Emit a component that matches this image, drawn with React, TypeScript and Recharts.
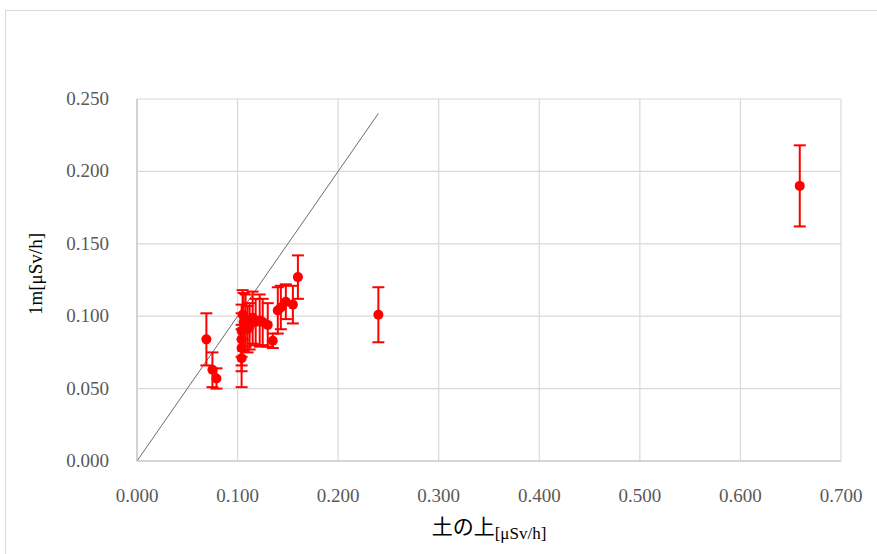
import React from 'react';
import {
  ScatterChart,
  Scatter,
  XAxis,
  YAxis,
  CartesianGrid,
  ErrorBar,
  ReferenceLine,
} from 'recharts';

/* ------------------------- data ----------------------------------------- */
// 土の上 (x) vs 1m (y), µSv/h, with y error
const soilValues = [
  0.069, 0.075, 0.079, 0.104, 0.104, 0.104, 0.104, 0.105, 0.106, 0.108,
  0.110, 0.112, 0.115, 0.118, 0.122, 0.125, 0.130, 0.135, 0.140, 0.143,
  0.148, 0.155, 0.160, 0.240, 0.659,
];
const oneMeterValues = [
  0.084, 0.063, 0.057, 0.071, 0.078, 0.084, 0.090, 0.101, 0.096, 0.097,
  0.091, 0.093, 0.099, 0.096, 0.097, 0.096, 0.094, 0.083, 0.104, 0.106,
  0.110, 0.108, 0.127, 0.101, 0.190,
];
const oneMeterErrors = [
  0.018, 0.012, 0.007, 0.020, 0.016, 0.018, 0.018, 0.017, 0.020, 0.018,
  0.016, 0.016, 0.018, 0.016, 0.018, 0.016, 0.015, 0.005, 0.016, 0.015,
  0.012, 0.013, 0.015, 0.019, 0.028,
];
const xTicks = [0, 0.1, 0.2, 0.3, 0.4, 0.5, 0.6, 0.7];
const yTicks = [0, 0.05, 0.1, 0.15, 0.2, 0.25];
const diagonalEnd = 0.24;

const rows = soilValues.map((x, i) => ({
  x,
  y: oneMeterValues[i],
  err: oneMeterErrors[i],
}));

/* ------------------------- helpers -------------------------------------- */
const fmt = (n: number) => n.toFixed(3);
const GRID = '#d9d9d9';
const TEXT = '#595959';
const SERIF = 'Liberation Serif, DejaVu Serif, serif';

const dot = (p: any) => <circle cx={p.cx} cy={p.cy} r={5} fill="#ff0000" />;

/* tick renderers — serif, grey */
const xTick = ({ x, y, payload }: any) => (
  <text x={x} y={y + 25} dy={14} textAnchor="middle" fill={TEXT} fontFamily={SERIF} fontSize={19}>
    {fmt(payload.value)}
  </text>
);
const yTick = ({ x, y, payload }: any) => (
  <text x={x - 26} y={y} dy={6} textAnchor="end" fill={TEXT} fontFamily={SERIF} fontSize={19}>
    {fmt(payload.value)}
  </text>
);

const XTitle = ({ viewBox }: any) => {
  const cx = viewBox.x + viewBox.width / 2;
  const y = viewBox.y + 73;
  return (
    <text x={cx} y={y} textAnchor="middle" fill="#000">
      <tspan fontFamily="Noto Sans CJK JP, sans-serif" fontSize={21}>
        土の上
      </tspan>
      <tspan fontFamily={SERIF} fontSize={17} dy={5}>
        [μSv/h]
      </tspan>
    </text>
  );
};

const YTitle = ({ viewBox }: any) => {
  const x = 42;
  const y = viewBox.y + viewBox.height / 2 - 6;
  return (
    <text
      x={x}
      y={y}
      textAnchor="middle"
      fill="#000"
      fontFamily={SERIF}
      fontSize={19}
      transform={`rotate(-90 ${x} ${y})`}
    >
      1m[μSv/h]
    </text>
  );
};

/* ------------------------- component ------------------------------------ */
export default function App() {
  return (
    <div
      style={{
        position: 'absolute',
        left: 0,
        top: 0,
        width: 877,
        height: 554,
        background: '#fff',
        overflow: 'hidden',
      }}
    >
      <div
        style={{
          position: 'absolute',
          left: 5,
          top: 10,
          width: 900,
          height: 600,
          border: `1px solid ${GRID}`,
        }}
      />
      <ScatterChart
        width={877}
        height={554}
        margin={{ top: 99, right: 36, bottom: 0, left: 0 }}
        style={{ position: 'absolute', left: 0, top: 0 }}
      >
        <CartesianGrid stroke={GRID} strokeWidth={1.2} />
        <XAxis
          type="number"
          dataKey="x"
          domain={[0, 0.7]}
          ticks={xTicks}
          height={93}
          tickLine={false}
          tickSize={0}
          axisLine={{ stroke: '#bfbfbf' }}
          tick={xTick}
          allowDataOverflow
          label={{ content: XTitle }}
        />
        <YAxis
          type="number"
          dataKey="y"
          domain={[0, 0.25]}
          ticks={yTicks}
          width={137}
          tickLine={false}
          tickSize={0}
          axisLine={{ stroke: '#bfbfbf' }}
          tick={yTick}
          allowDataOverflow
          label={{ content: YTitle }}
        />
        <ReferenceLine
          segment={[
            { x: 0, y: 0 },
            { x: diagonalEnd, y: diagonalEnd },
          ]}
          stroke="#6b6b6b"
          strokeWidth={1}
        />
        <Scatter data={rows} shape={dot} isAnimationActive={false}>
          <ErrorBar
            dataKey="err"
            direction="y"
            width={6}
            stroke="#ff0000"
            strokeWidth={2}
            isAnimationActive={false}
          />
        </Scatter>
      </ScatterChart>
    </div>
  );
}
